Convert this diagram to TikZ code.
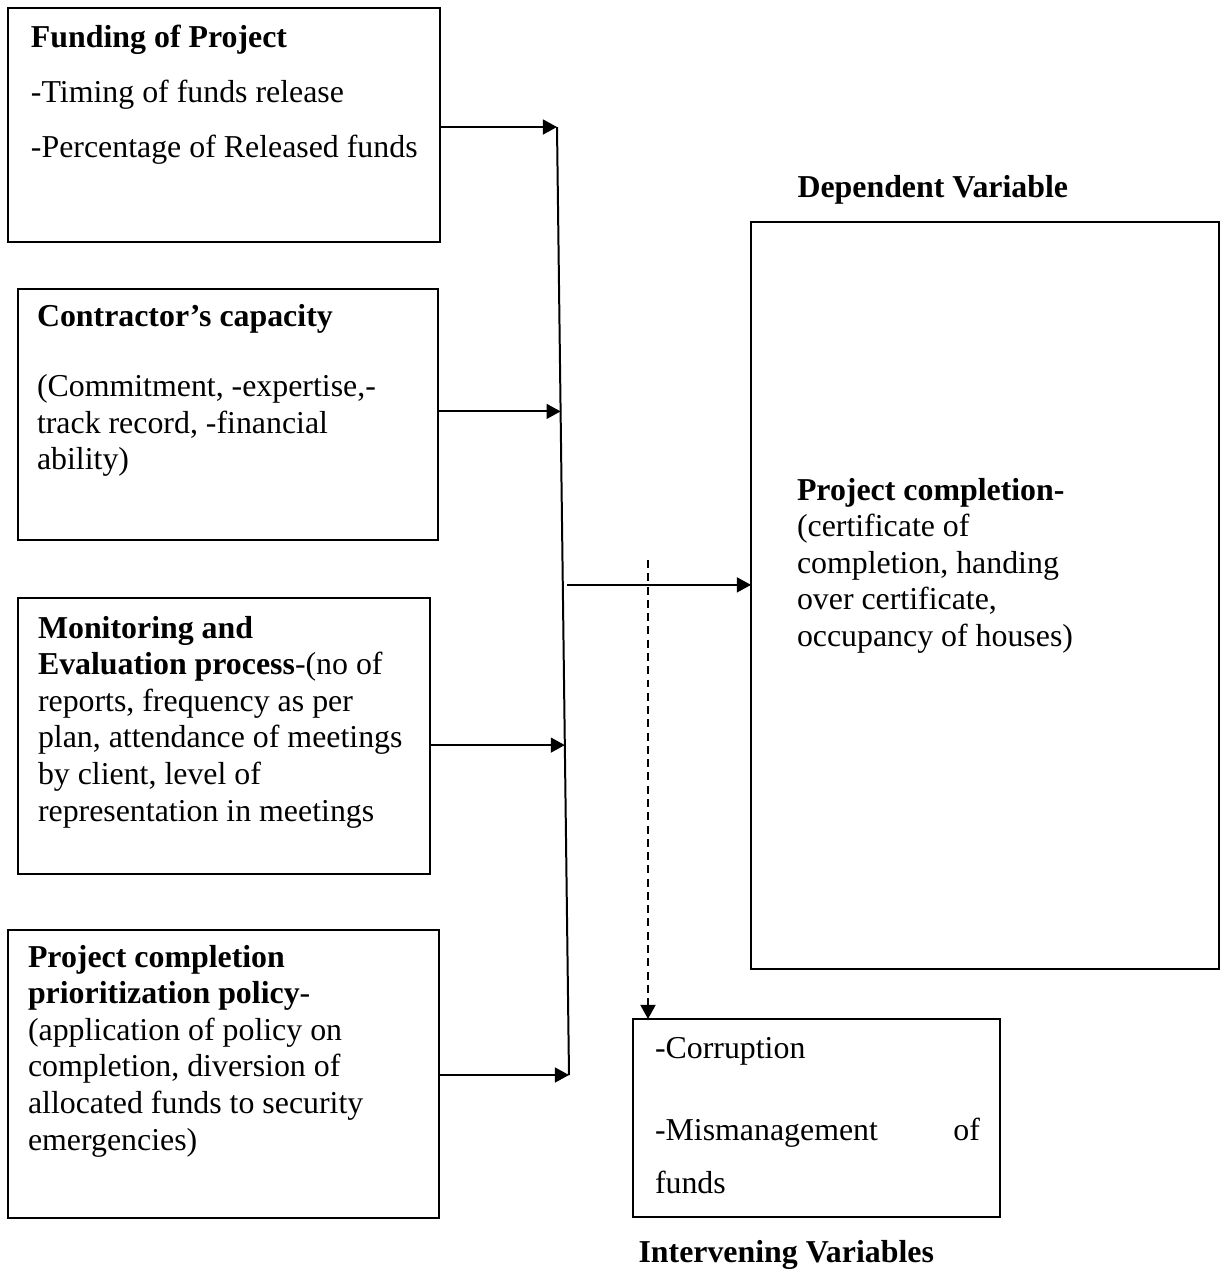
\documentclass[tikz,border=0pt]{standalone}
\usepackage{fontspec}
\setmainfont{Liberation Serif}
\usetikzlibrary{positioning, arrows.meta, calc}

\newlength{\px}
\setlength{\px}{0.3766pt}
% width, height, left pad, first baseline, text (all in px of the page)
\newcommand{\boxtext}[5]{\parbox[c][#2\px][t]{#1\px}{\raggedright\leftskip=#3\px\relax\rule{0pt}{#4\px}#5}}

\begin{document}
\begin{tikzpicture}
    [
        x=0.3766pt, y=-0.3766pt,
        font=\fontsize{12}{13.8}\selectfont,
        varbox/.style={draw, line width=0.75pt, anchor=north west, inner sep=0pt, outer sep=0pt},
        heading/.style={font=\fontsize{12}{13.8}\selectfont\bfseries, anchor=base west, inner sep=0pt},
        link/.style={-{Triangle[length=5.3pt, width=5.6pt]}, line width=0.75pt},
        spine/.style={line width=0.75pt},
        dashlink/.style={link, dash pattern=on 3pt off 2pt}
    ]
        \useasboundingbox (0,0) rectangle (1224,1270);
        % =========================================================================
        % NODES
        % =========================================================================
        % --- Independent variables ---
        \node [varbox] (funding) at (8,8) {\boxtext{432}{234}{23}{39}{\baselineskip=55\px
            \textbf{Funding of Project}\\
            -Timing of funds release\\
            -Percentage of Released funds}};
        \node [varbox] (contractor) at (18,289) {\boxtext{420}{251}{19}{37}{%
            \textbf{Contractor’s capacity}\\[34\px]
            (Commitment, -expertise,-\\
            track record, -financial\\
            ability)}};
        \node [varbox] (monitoring) at (18,598) {\boxtext{412}{276}{20}{40}{%
            \textbf{Monitoring and}\\
            \textbf{Evaluation process}-(no of\\
            reports, frequency as per\\
            plan, attendance of meetings\\
            by client, level of\\
            representation in meetings}};
        \node [varbox] (policy) at (8,930) {\boxtext{431}{288}{20}{37}{%
            \textbf{Project completion}\\
            \textbf{prioritization policy}-\\
            (application of policy on\\
            completion, diversion of\\
            allocated funds to security\\
            emergencies)}};
        % --- Dependent variable ---
        \node [heading] (deplabel) at (797,197) {Dependent Variable};
        \node [varbox] (completion) at (751,222) {\boxtext{468}{747}{46}{278}{%
            \textbf{Project completion-}\\
            (certificate of\\
            completion, handing\\
            over certificate,\\
            occupancy of houses)}};
        % --- Intervening variables ---
        \node [varbox] (intervening) at (633,1019) {\boxtext{367}{198}{22}{39}{%
            \rightskip=20\px plus 1fil\baselineskip=53\px
            -Corruption\\[29\px]
            -Mismanagement \hfill of\\
            funds}};
        \node [heading] (intlabel) at (638,1262) {Intervening Variables};

        % =========================================================================
        % PATHS
        % =========================================================================
        \coordinate (spinetop) at (557,127);
        \coordinate (spinebot) at (569,1075);
        \coordinate (s2) at ($(spinetop)!0.3!(spinebot)$);
        \coordinate (s3) at ($(spinetop)!0.652!(spinebot)$);
        \coordinate (s0) at ($(spinetop)!0.483!(spinebot)$);
        \coordinate (dashtop) at (648,560);
        % --- SPINE ---
        \draw [spine] (spinetop) -- (spinebot);
        % --- INTO SPINE ---
        \draw [link] (funding.east |- spinetop) -- (spinetop);
        \draw [link] (contractor.east |- s2) -- (s2);
        \draw [link] (monitoring.east |- s3) -- (s3);
        \draw [link] (policy.east |- spinebot) -- (spinebot);
        % --- OUT OF SPINE ---
        \draw [link] ([xshift=1.5pt]s0) -- (s0 -| completion.west);
        % --- DASHED ---
        \draw [dashlink] (dashtop) -- (dashtop |- intervening.north);
\end{tikzpicture}
\end{document}
